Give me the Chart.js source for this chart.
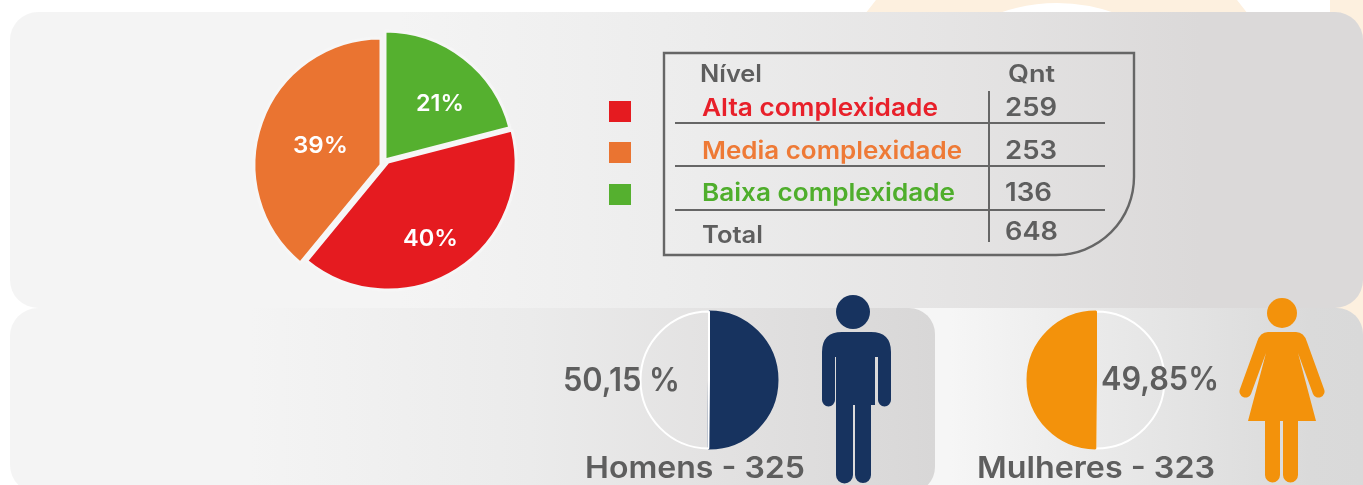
<!DOCTYPE html>
<html lang="pt">
<head>
<meta charset="utf-8">
<title>Complexidade e gênero</title>
<script src="https://cdn.jsdelivr.net/npm/chart.js@4/dist/chart.umd.min.js"></script>
<style>
html,body{margin:0;padding:0;background:#fff;overflow:hidden}
#stage{position:relative;width:1363px;height:485px;overflow:hidden}
#stage>*{position:absolute}
.p{box-sizing:border-box}
#p1{left:10px;top:12px;width:1353px;height:296px;border-radius:28px 28px 28px 28px;background:linear-gradient(90deg,#f4f4f4 0,#f4f4f4 390px,#ececec 690px,#e5e4e4 940px,#dbd9d9 1190px,#dbd9d9 100%)}
#p3{left:880px;top:308px;width:483px;height:190px;border-radius:0 26px 0 0;background:linear-gradient(90deg,#f6f6f6 0,#f6f6f6 70px,#ececec 190px,#dadada 430px,#d9d9d9 100%)}
#p2{left:10px;top:308px;width:925px;height:185px;border-radius:28px 26px 26px 28px;background:linear-gradient(90deg,#f4f4f4 0,#f4f4f4 240px,#ebebeb 520px,#e2e1e1 720px,#d8d7d7 100%)}
</style>
</head>
<body>
<div id="stage">
<svg id="bg" width="1363" height="485" style="left:0;top:0">
  <path d="M876 0 L865 14 L1248 14 L1237 0 L1105 0 Q1060 -4 1010 0 Z" fill="#fdf0df"/>
  <path d="M996 14 Q1057 -8 1118 14 Z" fill="#fff"/>
  <path d="M1330 0 L1363 0 L1363 485 L1330 485 Z" fill="#fdf0df"/>
</svg>
<div class="p" id="p1"></div>
<div class="p" id="p3"></div>
<div class="p" id="p2"></div>
<canvas id="mainPie" width="300" height="300" style="left:235px;top:10px"></canvas>
<canvas id="menPie" width="160" height="160" style="left:629px;top:300px"></canvas>
<canvas id="womenPie" width="160" height="160" style="left:1016px;top:300px"></canvas>
<svg id="ov" width="1363" height="485" style="left:0;top:0"></svg>
</div>
<script>
// ---- data ----
const levels = ['Alta complexidade', 'Media complexidade', 'Baixa complexidade'];
const levelCounts = [259, 253, 136];
const levelPercents = ['40%', '39%', '21%'];
const totalCount = 648;
const pieOrder = [2, 0, 1];               // green, red, orange clockwise from the top
const levelColors = ['#e51b20', '#ea7431', '#55b02f'];
const tableHeader = ['Nível', 'Qnt'];
const totalLabel = 'Total';
const genderNames = ['Homens', 'Mulheres'];
const genderCounts = [325, 323];
const genderPercents = ['50,15 %', '49,85%'];
const genderColors = ['#17335f', '#f3920b'];

const NS = 'http://www.w3.org/2000/svg';
const ov = document.getElementById('ov');
const FONT = 'Inter, "Noto Sans", sans-serif';
function el(name, attrs, parent) {
  const e = document.createElementNS(NS, name);
  for (const k in attrs) e.setAttribute(k, attrs[k]);
  (parent || ov).appendChild(e);
  return e;
}
function txt(s, x, y, w, size, fill, weight) {
  const t = el('text', {x, y, 'font-family': FONT, 'font-size': size, 'font-weight': weight || 600,
    fill, textLength: w, lengthAdjust: 'spacingAndGlyphs'});
  t.textContent = s;
}

// main pie: same library arcs, each nudged to follow the slightly exploded original
const arcPlacement = [
  {x: 150, y: 150, r: 129},   // green
  {x: 153, y: 152, r: 128},   // red
  {x: 146, y: 155, r: 127}    // orange
];
new Chart(document.getElementById('mainPie'), {
  type: 'pie',
  data: {
    labels: pieOrder.map(i => levels[i]),
    datasets: [{
      data: pieOrder.map(i => levelCounts[i]),
      backgroundColor: pieOrder.map(i => levelColors[i]),
      borderColor: '#f6f6f6',
      borderWidth: 3
    }]
  },
  options: {
    responsive: false, animation: false,
    layout: {padding: 18},
    plugins: {legend: {display: false}, tooltip: {enabled: false}}
  },
  plugins: [{
    id: 'placeArcs',
    beforeDatasetsDraw(chart) {
      chart.getDatasetMeta(0).data.forEach((a, i) => {
        a.x = arcPlacement[i].x; a.y = arcPlacement[i].y; a.outerRadius = arcPlacement[i].r;
      });
    }
  }]
});

function genderPie(id, values, colors, borders) {
  new Chart(document.getElementById(id), {
    type: 'pie',
    data: {labels: genderNames, datasets: [{data: values, backgroundColor: colors, borderColor: borders, borderWidth: 2}]},
    options: {
      responsive: false, animation: false,
      layout: {padding: 10.5},
      plugins: {legend: {display: false}, tooltip: {enabled: false}}
    }
  });
}
genderPie('menPie', genderCounts, [genderColors[0], 'rgba(0,0,0,0)'], [genderColors[0], '#ffffff']);
genderPie('womenPie', genderCounts, ['rgba(0,0,0,0)', genderColors[1]], ['#ffffff', genderColors[1]]);

// percent labels on the main pie
txt(levelPercents[2], 416, 111, 48, 23, '#fff');
txt(levelPercents[1], 293, 153, 55, 23, '#fff');
txt(levelPercents[0], 403, 246, 55, 23, '#fff');

// legend squares
[101, 142, 184].forEach((y, i) => el('rect', {x: 609, y, width: 22, height: 21, fill: levelColors[i]}));

// table frame and rules
const G = '#666666';
el('path', {d: 'M664 53 H1134 V177 A78 78 0 0 1 1056 255 H664 Z', fill: 'none', stroke: G, 'stroke-width': 2.4});
[123, 166, 210].forEach(y => el('line', {x1: 675, x2: 1105, y1: y, y2: y, stroke: G, 'stroke-width': 2}));
el('line', {x1: 989, x2: 989, y1: 91, y2: 242, stroke: G, 'stroke-width': 2});

const GT = '#5e5e5e';
txt(tableHeader[0], 700, 82, 62, 24, GT);
txt(tableHeader[1], 1008, 82, 47, 24, GT);
const textCols = ['#e8202a', '#ee7a36', '#4fae2c'];
const rowBase = [116, 159, 201];
const rowW = [236, 260, 253];
const numW = [52, 52, 47];
levels.forEach((s, i) => {
  txt(s, 702, rowBase[i], rowW[i], 24.5, textCols[i]);
  txt(String(levelCounts[i]), 1005, rowBase[i], numW[i], 25, GT);
});
txt(totalLabel, 702, 243, 61, 24, GT);
txt(String(totalCount), 1005, 240, 53, 25, GT);

// gender text
txt(genderPercents[0], 563, 391, 117, 32, GT);
txt(genderPercents[1], 1101, 390, 118, 32, GT);
txt(genderNames[0] + ' - ' + genderCounts[0], 585, 478, 220, 30, GT);
txt(genderNames[1] + ' - ' + genderCounts[1], 977, 478, 238, 30, GT);

// man pictogram
const M = genderColors[0];
el('circle', {cx: 853, cy: 312, r: 17, fill: M});
el('path', {fill: M, d: 'M822 352 Q822 332 842 332 H871 Q891 332 891 352 V400 A6.5 6.5 0 0 1 878 400 V357 H875 V405 L871 405 V475 A8 8 0 0 1 855 475 V405 H853 V475 A8.5 8.5 0 0 1 836 475 V357 H835 V400 A6.5 6.5 0 0 1 822 400 Z'});

// woman pictogram
const W = genderColors[1];
el('circle', {cx: 1282, cy: 313, r: 15, fill: W});
el('path', {fill: W, d: 'M1268 332 H1296 Q1304 332 1307 342 L1324 389 A6 6 0 0 1 1313 394 L1298 353 L1316 421 H1298 V475 A7.5 7.5 0 0 1 1283 475 V421 H1280 V475 A7.5 7.5 0 0 1 1265 475 V421 H1248 L1266 353 L1251 394 A6 6 0 0 1 1240 389 L1257 342 Q1260 332 1268 332 Z'});
</script>
</body>
</html>
